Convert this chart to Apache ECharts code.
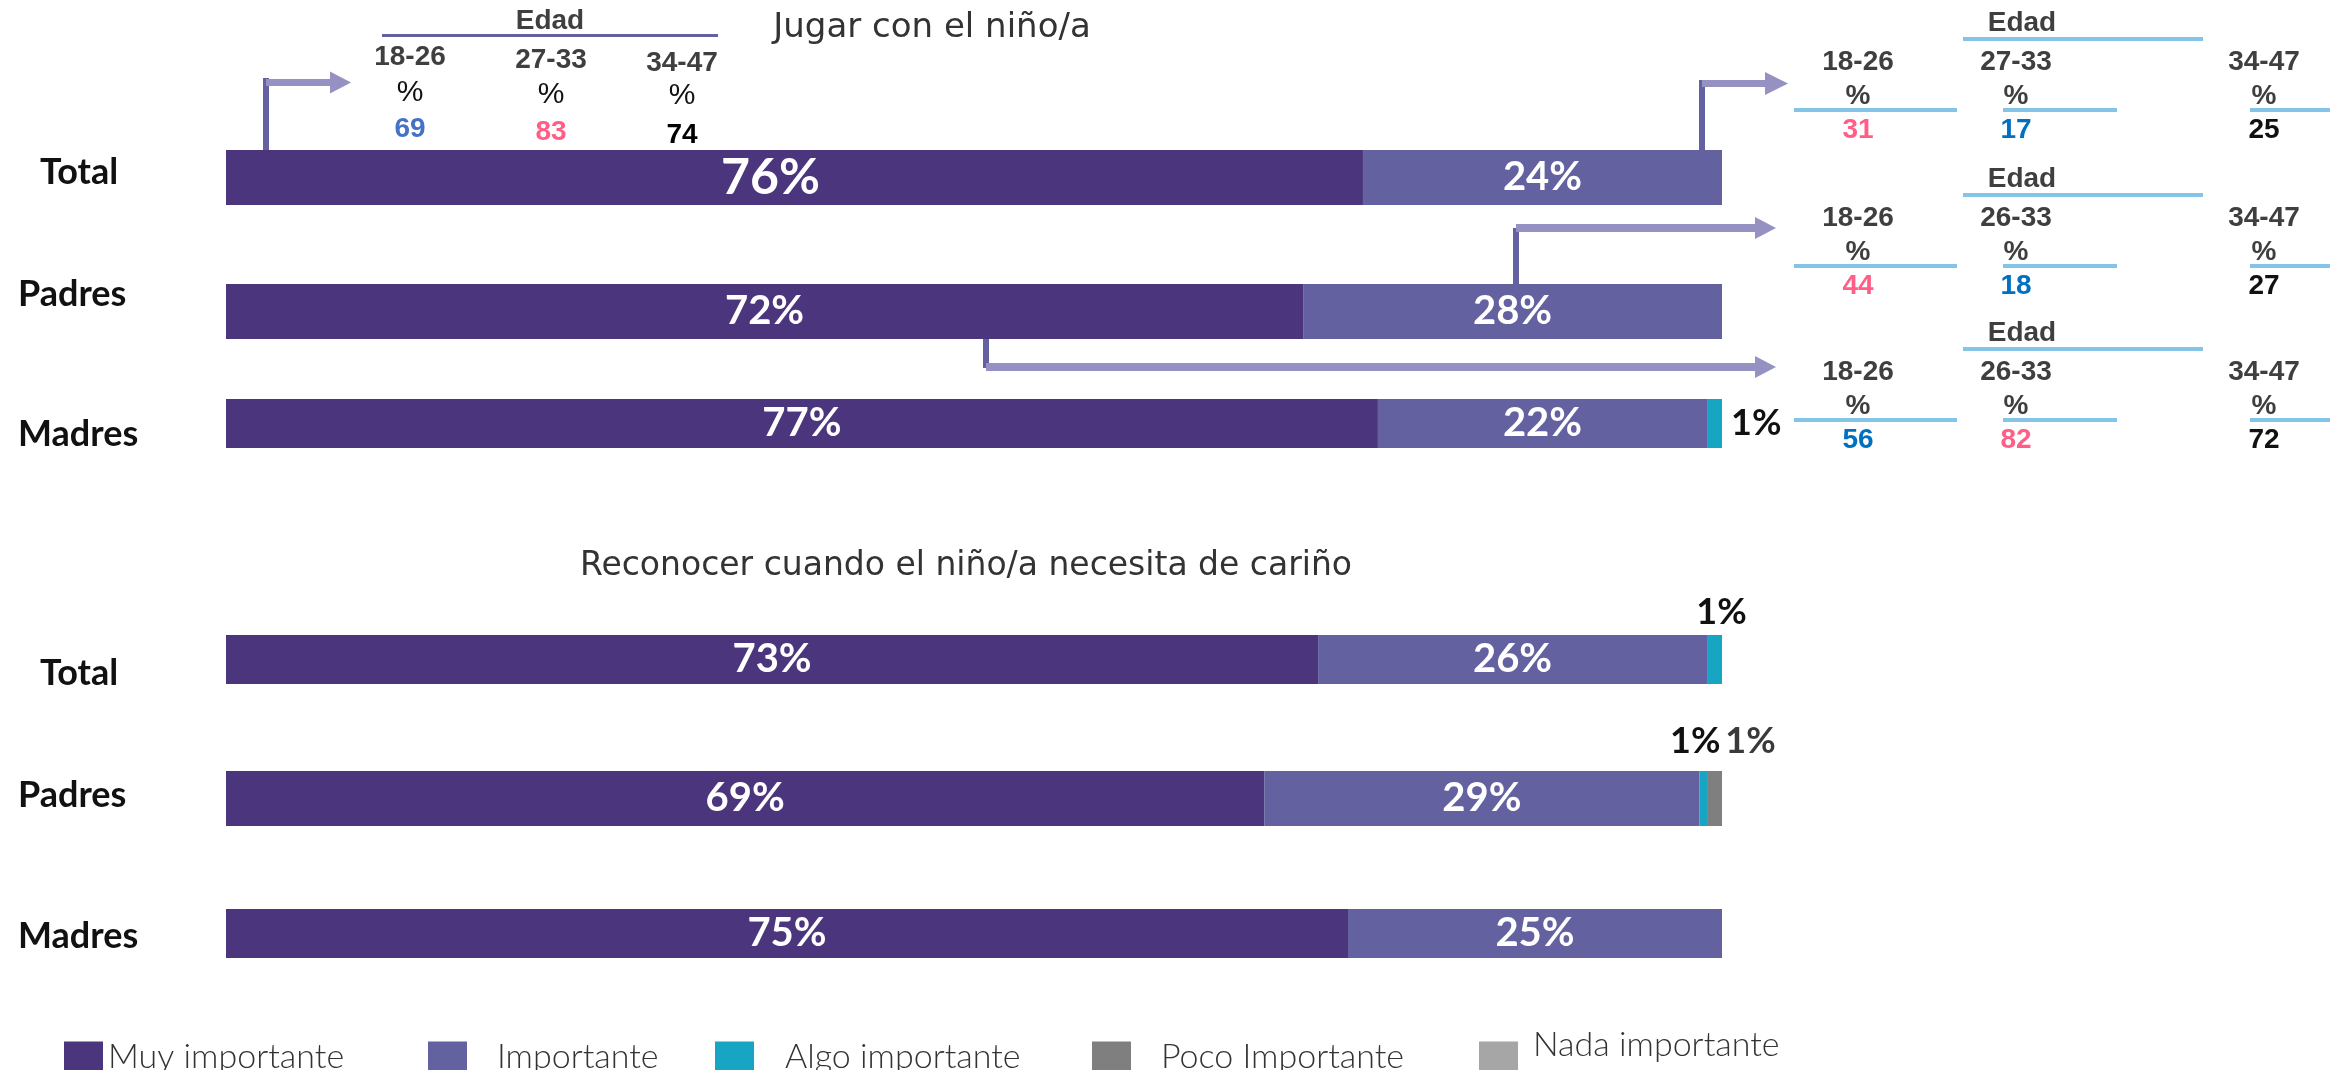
<!DOCTYPE html>
<html>
<head>
<meta charset="utf-8">
<script src="https://cdn.jsdelivr.net/npm/echarts@6/dist/echarts.min.js"></script>
<style>
html,body{margin:0;padding:0;background:#fff;}
#chart{width:2330px;height:1070px;}
</style>
</head>
<body>
<div id="chart"></div>
<script>
// ---------------- DATA ----------------
const titleJugar = 'Jugar con el niño/a';
const titleReconocer = 'Reconocer cuando el niño/a necesita de cariño';
const groups = ['Total', 'Padres', 'Madres'];
const levels = ['Muy importante', 'Importante', 'Algo importante', 'Poco Importante', 'Nada importante'];

// Jugar con el niño/a  (per group: Total, Padres, Madres)
const jugarMuy   = [76, 72, 77];
const jugarImp   = [24, 28, 22];
const jugarAlgo  = [0, 0, 1];
const jugarPoco  = [0, 0, 0];
const jugarNada  = [0, 0, 0];

// Reconocer cuando el niño/a necesita de cariño
const recMuy  = [73, 69.4, 75];
const recImp  = [26, 29.1, 25];
const recAlgo = [1, 0.5, 0];
const recPoco = [0, 1, 0];
const recNada = [0, 0, 0];

// Age breakdown tables
const edadLabel = 'Edad';
const ageGroupsTotalLeft = ['18-26', '27-33', '34-47'];
const ageValuesTotalLeft = [69, 83, 74];
const ageGroupsTotal  = ['18-26', '27-33', '34-47'];
const ageValuesTotal  = [31, 17, 25];
const ageGroupsPadres = ['18-26', '26-33', '34-47'];
const ageValuesPadres = [44, 18, 27];
const ageGroupsMadres = ['18-26', '26-33', '34-47'];
const ageValuesMadres = [56, 82, 72];

// ---------------- STYLE / LAYOUT ----------------
const levelColors = ['#4b357c', '#6461a0', '#18a5c4', '#7f7f7f', '#a6a6a6'];
const gridLeft = 226, gridWidth = 1496;
const barTops = [150, 284, 399, 635, 771, 909];
const barHeights = [55, 55, 49, 49, 55, 49];
const yLabelShift = [-5, -17, 11, 14, -3, 3];   // vertical shift of category labels
const yLabelX = [40, 18, 18, 40, 18, 18];
const legendLeft = [64, 428, 715, 1092, 1479];
const legendTop = [1037, 1037, 1037, 1037, 1028];
const legendGap = [0, 25, 26, 25, 10];
const legendRaise = [0, 0, 0, 0, 12];

const chartData = [
  [jugarMuy, jugarImp, jugarAlgo, jugarPoco, jugarNada],
  [recMuy, recImp, recAlgo, recPoco, recNada]
];

// per-segment label overrides  key: gridIndex-levelIndex
const labelOverrides = {
  '0-0': {fontSize: 50, offset: [-24, 0]},
  '2-2': {show: true, position: 'right', color: '#111', distance: 9, fontSize: 36},
  '3-2': {show: true, position: 'top', color: '#111', distance: 5, offset: [7, 0], fontSize: 36},
  '4-2': {show: true, position: 'top', color: '#111', distance: 12, offset: [-8, 0], fontSize: 36},
  '4-3': {show: true, position: 'top', color: '#3a3a3a', distance: 12, offset: [36, 0], fontSize: 36}
};

const grids = [], xAxes = [], yAxes = [], series = [];
for (let g = 0; g < 6; g++) {
  const block = g < 3 ? 0 : 1;
  const gi = g % 3;
  grids.push({left: gridLeft, width: gridWidth, top: barTops[g], height: barHeights[g], containLabel: false});
  xAxes.push({type: 'value', gridIndex: g, min: 0, max: 100, show: false});
  const shift = yLabelShift[g];
  yAxes.push({
    type: 'category', gridIndex: g, data: [groups[gi]],
    axisLine: {show: false}, axisTick: {show: false}, splitLine: {show: false},
    axisLabel: {
      margin: gridLeft - yLabelX[g], align: 'left',
      verticalAlign: shift < 0 ? 'bottom' : 'top',
      lineHeight: Math.max(1, 2 * Math.abs(shift)),
      fontFamily: 'Lato', fontWeight: 'bold', fontSize: 36, color: '#111'
    }
  });
  for (let l = 0; l < levels.length; l++) {
    const v = chartData[block][l][gi];
    const ov = labelOverrides[g + '-' + l] || {};
    const item = {value: v};
    if (Object.keys(ov).length) item.label = ov;
    series.push({
      type: 'bar', name: levels[l], stack: 'g' + g,
      xAxisIndex: g, yAxisIndex: g,
      barWidth: barHeights[g],
      itemStyle: {color: levelColors[l]},
      label: {
        show: v >= 5, position: 'inside', color: '#fff',
        fontFamily: 'Lato', fontWeight: 'bold', fontSize: 40,
        formatter: p => Math.round(p.value) + '%'
      },
      emphasis: {disabled: true},
      data: [item]
    });
  }
}

const legends = levels.map((name, i) => ({
  data: [name], left: legendLeft[i], top: legendTop[i], padding: 0,
  icon: 'rect', itemWidth: 39, itemHeight: 31, selectedMode: false,
  formatter: legendRaise[i] ? (n => n + '\n ') : (n => n),
  textStyle: {fontFamily: 'Lato', fontWeight: 300, fontSize: 34, color: '#333',
    padding: [0, 0, 0, legendGap[i]],
    lineHeight: legendRaise[i] ? 2 * legendRaise[i] : 40}
}));

// ---------- annotations (tables, arrows, titles) ----------
const gfx = [];
function txt(x, y, s, opt) {
  gfx.push({type: 'text', x: x, y: y, style: Object.assign({
    text: String(s), align: 'center', verticalAlign: 'middle',
    font: 'bold 28px "Liberation Sans", Arial', fill: '#3f3f3f'}, opt || {})});
}
function rect(x, y, w, h, c) {
  gfx.push({type: 'rect', shape: {x: x, y: y, width: w, height: h}, style: {fill: c}});
}
function head(xb, xt, yc, hh, c) {
  gfx.push({type: 'polygon', shape: {points: [[xb, yc - hh / 2], [xt, yc], [xb, yc + hh / 2]]}, style: {fill: c}});
}
const arrowDark = '#6461a0', arrowLight = '#9591c3';

// titles
txt(932, 28, titleJugar, {font: '34px "DejaVu Sans"', fill: '#333'});
txt(966, 566, titleReconocer, {font: '33px "DejaVu Sans"', fill: '#333'});

// left table (Total, Jugar)
txt(550, 21, edadLabel);
rect(382, 34, 336, 3, '#6461a0');
const leftX = [410, 551, 682];
const leftDy = [0, 3, 6];
const leftColors = ['#4472c4', '#ff5f86', '#000'];
for (let i = 0; i < 3; i++) {
  txt(leftX[i], 57 + leftDy[i], ageGroupsTotalLeft[i]);
  txt(leftX[i], 93 + leftDy[i] / 2, '%', {font: '30px "Liberation Sans", Arial', fill: '#111'});
  txt(leftX[i], 129 + leftDy[i], ageValuesTotalLeft[i], {fill: leftColors[i]});
}

// right tables
const rightTables = [
  {g: ageGroupsTotal,  v: ageValuesTotal,  y0: 23,  colors: ['#ff5f86', '#0070c0', '#111']},
  {g: ageGroupsPadres, v: ageValuesPadres, y0: 179, colors: ['#ff5f86', '#0070c0', '#111']},
  {g: ageGroupsMadres, v: ageValuesMadres, y0: 333, colors: ['#0070c0', '#ff5f86', '#111']}
];
const rightX = [1858, 2016, 2264];
const rightLines = [[1794, 1957], [2003, 2117], [2250, 2330]];
const lineBlue = '#84c4e8';
rightTables.forEach(t => {
  const y = t.y0;
  txt(2022, y, edadLabel);
  rect(1963, y + 14, 240, 4, lineBlue);
  for (let i = 0; i < 3; i++) {
    txt(rightX[i], y + 39, t.g[i]);
    txt(rightX[i], y + 73, '%');
    rect(rightLines[i][0], y + 85, rightLines[i][1] - rightLines[i][0], 4, lineBlue);
    txt(rightX[i], y + 107, t.v[i], {fill: t.colors[i]});
  }
});

// arrows
rect(263, 78, 6, 72, arrowDark);
rect(266, 79, 64, 7, arrowLight);
head(330, 351, 82.5, 22, arrowLight);

rect(1699, 80, 6, 70, arrowDark);
rect(1702, 80, 63, 7, arrowLight);
head(1765, 1788, 83.5, 23, arrowLight);

rect(1513, 228, 6, 56, arrowDark);
rect(1516, 224, 239, 8, arrowLight);
head(1755, 1776, 228, 22, arrowLight);

rect(983, 339, 6, 29, arrowDark);
rect(986, 363, 769, 8, arrowLight);
head(1755, 1776, 367, 22, arrowLight);

const chart = echarts.init(document.getElementById('chart'), null, {renderer: 'canvas'});
chart.setOption({
  animation: false,
  backgroundColor: '#fff',
  grid: grids, xAxis: xAxes, yAxis: yAxes,
  legend: legends,
  series: series,
  graphic: gfx
});
</script>
</body>
</html>
